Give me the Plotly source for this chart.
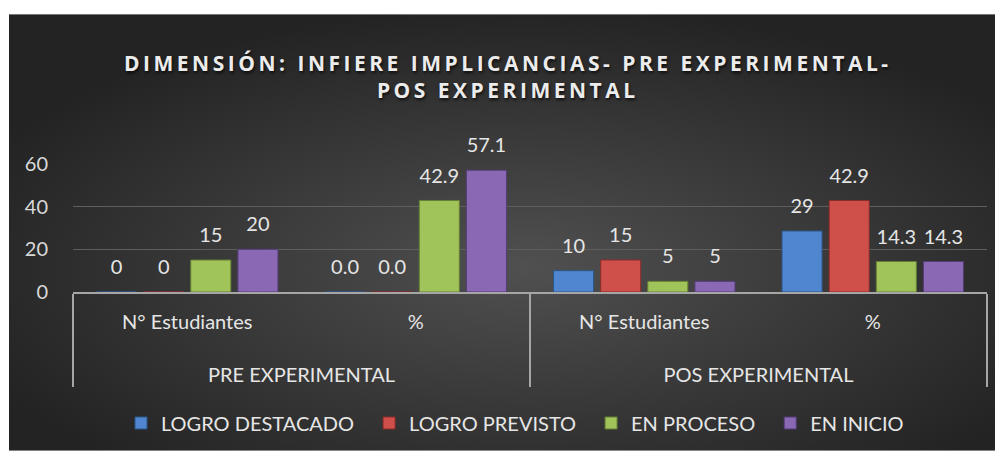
import base64
import plotly.graph_objects as go

# data
outer = ["PRE EXPERIMENTAL", "PRE EXPERIMENTAL", "POS EXPERIMENTAL", "POS EXPERIMENTAL"]
inner = ["N° Estudiantes", "%", "N° Estudiantes", "%"]

series_names = ["LOGRO DESTACADO", "LOGRO PREVISTO", "EN PROCESO", "EN INICIO"]
logro_destacado = [0, 0.0, 10, 28.6]
logro_previsto = [0, 0.0, 15, 42.9]
en_proceso = [15, 42.9, 5, 14.3]
en_inicio = [20, 57.1, 5, 14.3]

lbl_destacado = ["0", "0.0", "10", "29"]
lbl_previsto = ["0", "0.0", "15", "42.9"]
lbl_proceso = ["15", "42.9", "5", "14.3"]
lbl_inicio = ["20", "57.1", "5", "14.3"]

values = [logro_destacado, logro_previsto, en_proceso, en_inicio]
labels = [lbl_destacado, lbl_previsto, lbl_proceso, lbl_inicio]
colors = ["#4f86cf", "#cf4f4b", "#a0c35a", "#8a68b4"]
edges = ["#2c5689", "#8a2c2a", "#667f34", "#553d78"]

FONT = "Lato"
TXT = "#e6e6e6"

title_lines = ["DIMENSIÓN: INFIERE IMPLICANCIAS- PRE EXPERIMENTAL-", "POS EXPERIMENTAL"]
# spaced-out caps like the original heading (six-per-em space between letters)
title_text = "<br>".join("\u2006".join(line) for line in title_lines)

# radial grey backdrop like the office chart style
svg = (
    "<svg xmlns='http://www.w3.org/2000/svg' width='994' height='440' "
    "preserveAspectRatio='none' viewBox='0 0 994 440'><defs>"
    "<radialGradient id='g' cx='52%' cy='58%' r='60%'>"
    "<stop offset='0' stop-color='#505050'/><stop offset='1' stop-color='#232323'/>"
    "</radialGradient></defs><rect width='994' height='440' fill='url(#g)'/></svg>"
)
bg_src = "data:image/svg+xml;base64," + base64.b64encode(svg.encode()).decode()

# page body has an 8px margin, so the figure is 8px smaller each way
W, H = 995, 445
L, R, T, B = 65, 16, 156, 160
pw, ph = W - L - R, H - T - B

fig = go.Figure()
# blank tall second line under the inner labels pushes the outer level down
spacer = "<br><span style='font-size:52px'>\u00a0</span>"
x = [outer, [c + spacer for c in inner]]
for name, vals, col, edge in zip(series_names, values, colors, edges):
    fig.add_trace(go.Bar(
        x=x, y=vals, name=name + "\u2002",
        marker=dict(color=col, line=dict(color=edge, width=1)),
        hoverinfo="skip",
    ))
for vals, lab in zip(values, labels):
    fig.add_trace(go.Scatter(
        x=x, y=vals, text=lab, mode="markers+text",
        marker=dict(size=19, opacity=0),
        textposition="top center",
        textfont=dict(family=FONT, size=20, color=TXT),
        showlegend=False, hoverinfo="skip", cliponaxis=False,
    ))

fig.update_layout(
    width=W, height=H,
    margin=dict(l=L, r=R, t=T, b=B),
    paper_bgcolor="white",
    plot_bgcolor="rgba(0,0,0,0)",
    barmode="group", bargap=0.175, bargroupgap=0.15,
    scattermode="group", scattergap=0.175,
    font=dict(family=FONT, size=20, color=TXT),
    title=dict(
        text=title_text,
        x=498 / W, xanchor="center", y=1 - 63 / H, yanchor="middle",
        font=dict(family="Open Sans", size=21, weight="bold", color="#ececec",
                  shadow="1px 2px 3px rgba(0,0,0,0.7)"),
    ),
    legend=dict(
        orientation="h", x=(512 - L) / pw, xanchor="center",
        y=(T + ph - 415) / ph, yanchor="middle",
        font=dict(family=FONT, size=20, color=TXT),
        bgcolor="rgba(0,0,0,0)",
    ),
    images=[dict(
        source=bg_src, xref="paper", yref="paper",
        x=(1 - L) / pw, y=(T + ph - 5) / ph,
        sizex=994 / pw, sizey=440 / ph,
        sizing="stretch", layer="below",
    )],
)
fig.update_yaxes(
    range=[0, 60], tickvals=[0, 20, 40, 60], showgrid=True,
    gridcolor="#5e5e5e", gridwidth=1, zeroline=False, showline=False,
    ticklabelstandoff=24, tickfont=dict(family=FONT, size=20, color="#d9d9d9"),
)
fig.update_xaxes(
    type="multicategory", showline=True, linecolor="#a6a6a6", linewidth=2,
    showdividers=True, dividercolor="#a6a6a6", dividerwidth=2,
    ticklabelstandoff=11,
    tickfont=dict(family=FONT, size=20, color=TXT),
)

fig.write_html("out.html")
